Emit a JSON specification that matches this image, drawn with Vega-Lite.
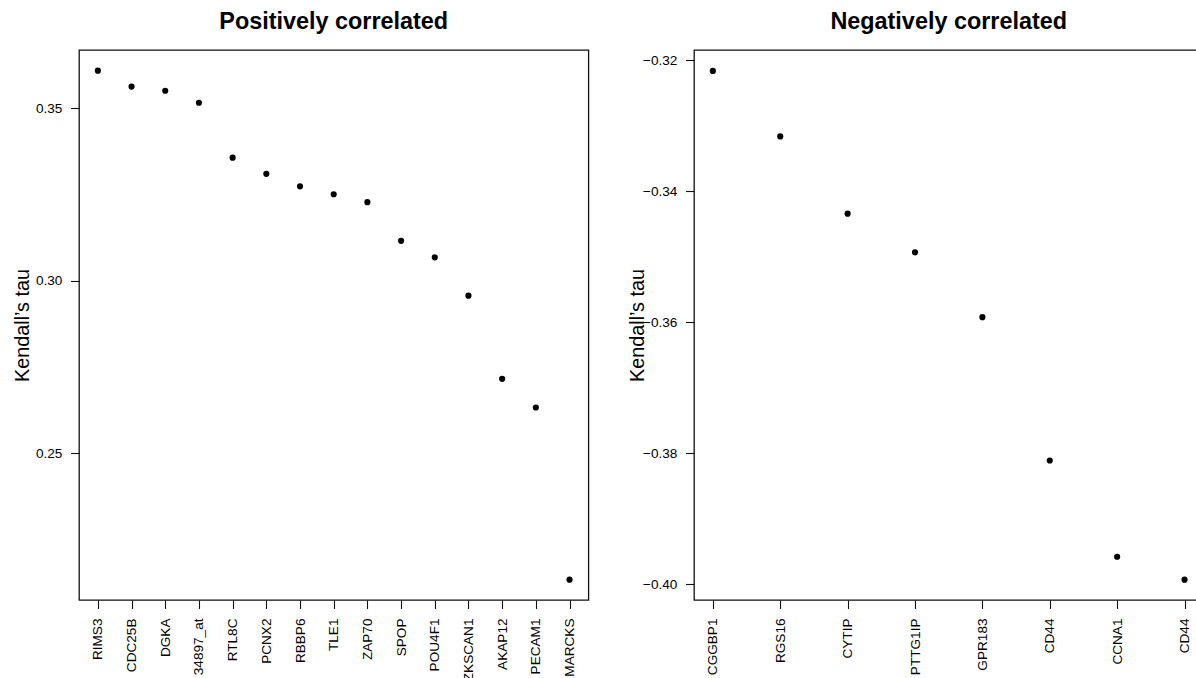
{
  "$schema": "https://vega.github.io/schema/vega-lite/v6.json",
  "padding": {"left": 11, "top": 8, "right": 0, "bottom": 0},
  "background": "white",
  "datasets": {
    "pos": [
      {"id": "RIMS3", "tau": 0.3609},
      {"id": "CDC25B", "tau": 0.3563},
      {"id": "DGKA", "tau": 0.3551},
      {"id": "34897_at", "tau": 0.3516},
      {"id": "RTL8C", "tau": 0.3357},
      {"id": "PCNX2", "tau": 0.3310},
      {"id": "RBBP6", "tau": 0.3274},
      {"id": "TLE1", "tau": 0.3251},
      {"id": "ZAP70", "tau": 0.3228},
      {"id": "SPOP", "tau": 0.3116},
      {"id": "POU4F1", "tau": 0.3068},
      {"id": "ZKSCAN1", "tau": 0.2957},
      {"id": "AKAP12", "tau": 0.2716},
      {"id": "PECAM1", "tau": 0.2633},
      {"id": "MARCKS", "tau": 0.2134}
    ],
    "neg": [
      {"id": "CGGBP1", "tau": -0.3216},
      {"id": "RGS16", "tau": -0.3316},
      {"id": "CYTIP", "tau": -0.3434},
      {"id": "PTTG1IP", "tau": -0.3493},
      {"id": "GPR183", "tau": -0.3592},
      {"id": "CD44|1", "tau": -0.3811},
      {"id": "CCNA1", "tau": -0.3958},
      {"id": "CD44|2", "tau": -0.3993}
    ]
  },
  "config": {
    "font": "Liberation Sans",
    "view": {"stroke": "#111", "strokeWidth": 1.3},
    "axis": {
      "domain": false,
      "grid": false,
      "tickColor": "#111",
      "tickWidth": 1.1,
      "tickSize": 8.5,
      "labelColor": "#000",
      "labelFont": "Liberation Sans",
      "labelFontSize": 13.6,
      "titleFont": "Liberation Sans",
      "titleFontSize": 19.8,
      "titleFontWeight": "normal",
      "titleColor": "#000"
    },
    "title": {
      "font": "Liberation Sans",
      "fontSize": 23.4,
      "fontWeight": "bold",
      "color": "#000",
      "anchor": "middle",
      "baseline": "alphabetic",
      "offset": 16
    }
  },
  "spacing": 105,
  "bounds": "flush",
  "hconcat": [
    {
      "title": "Positively correlated",
      "width": 509.4,
      "height": 550,
      "data": {"name": "pos"},
      "mark": {"type": "circle", "size": 38, "color": "#000", "opacity": 1},
      "encoding": {
        "x": {
          "field": "id", "type": "nominal", "sort": null,
          "scale": {"type": "point", "padding": 0.56},
          "axis": {
            "title": null, "labelAngle": -90, "labelAlign": "right",
            "labelBaseline": "middle", "labelPadding": 9.5,
            "labelExpr": "split(datum.value, '|')[0]"
          }
        },
        "y": {
          "field": "tau", "type": "quantitative",
          "scale": {"domain": [0.2075, 0.3669], "nice": false, "zero": false},
          "axis": {
            "title": "Kendall’s tau", "values": [0.25, 0.30, 0.35], "format": ".2f",
            "labelPadding": 8.6,
            "titleX": -51, "titleY": 275, "titleAngle": -90,
            "titleAlign": "center", "titleBaseline": "alphabetic"
          }
        }
      }
    },
    {
      "title": "Negatively correlated",
      "width": 509.4,
      "height": 550,
      "data": {"name": "neg"},
      "mark": {"type": "circle", "size": 38, "color": "#000", "opacity": 1},
      "encoding": {
        "x": {
          "field": "id", "type": "nominal", "sort": null,
          "scale": {"type": "point", "padding": 0.28},
          "axis": {
            "title": null, "labelAngle": -90, "labelAlign": "right",
            "labelBaseline": "middle", "labelPadding": 9.5,
            "labelExpr": "split(datum.value, '|')[0]"
          }
        },
        "y": {
          "field": "tau", "type": "quantitative",
          "scale": {"domain": [-0.4024, -0.3184], "nice": false, "zero": false},
          "axis": {
            "title": "Kendall’s tau", "values": [-0.40, -0.38, -0.36, -0.34, -0.32], "format": ".2f",
            "labelPadding": 8.6,
            "titleX": -51, "titleY": 275, "titleAngle": -90,
            "titleAlign": "center", "titleBaseline": "alphabetic"
          }
        }
      }
    }
  ]
}
